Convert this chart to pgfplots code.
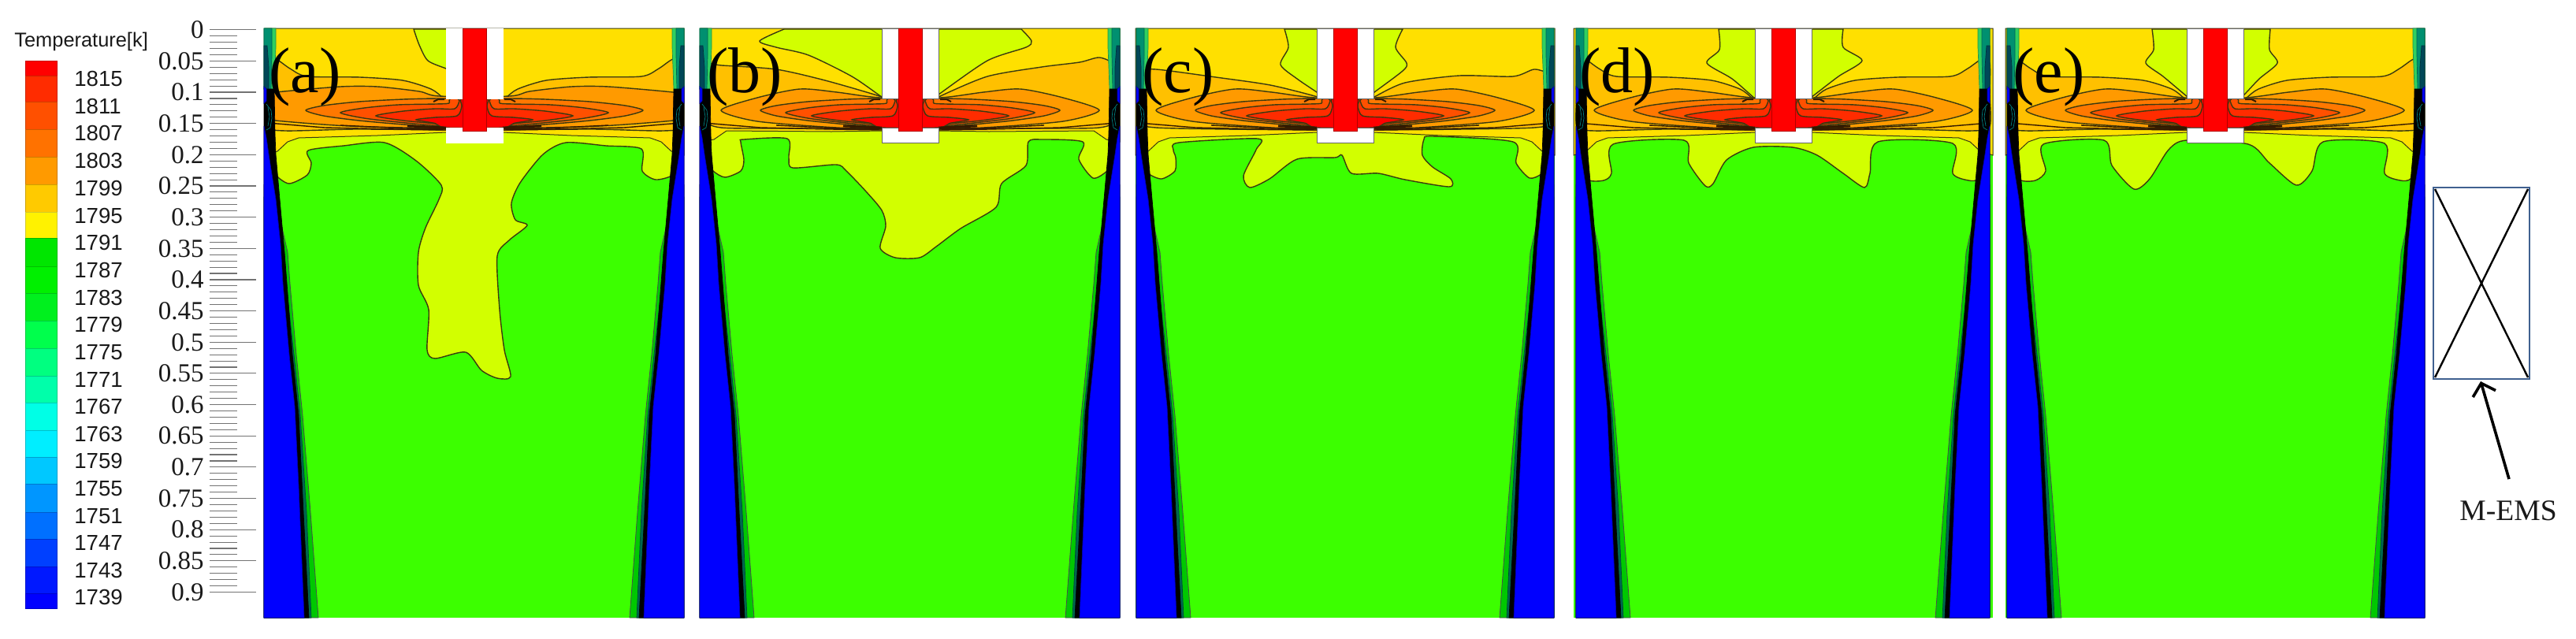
\documentclass[border=0pt]{standalone}
\usepackage{fontspec}
\setmainfont{Liberation Serif}
\setsansfont{Liberation Sans}
\usepackage{pgfplots}
\usepackage{pgfplotstable}
\usetikzlibrary{arrows.meta}
\pgfplotsset{compat=1.18}
\definecolor{cg}{HTML}{3CFF00}\definecolor{cy}{HTML}{D2FF00}\definecolor{cgold}{HTML}{FFE000}
\definecolor{camb}{HTML}{FFC000}\definecolor{cor}{HTML}{FF9A00}\definecolor{ca}{HTML}{FF7800}
\definecolor{cb}{HTML}{FF5000}\definecolor{cc}{HTML}{FF2C00}\definecolor{cd}{HTML}{FF0000}
\definecolor{cl}{HTML}{3A3A10}\definecolor{bx}{HTML}{3F6090}
\definecolor{wg}{HTML}{00C800}\definecolor{wt}{HTML}{006650}\definecolor{wa}{HTML}{30D060}\definecolor{wb}{HTML}{009070}\definecolor{wc}{HTML}{004858}
% whole panel (relative to centre)
\pgfplotstableread[row sep=\\]{x y\\-266 36\\266 36\\266 784\\-266 784\\}\tBase
% lower boundary of the gold layer
\pgfplotstableread[row sep=\\]{x y\\-266 36\\266 36\\266 197\\250 192\\237 180\\223 175\\123 172\\36 168\\-36 168\\-123 172\\-223 175\\-237 180\\-250 192\\-266 197\\}\tGold
\pgfplotstableread[row sep=\\]{x y\\-266 36\\266 36\\266 180\\249 177\\233 166\\100 167\\36 166\\-36 166\\-100 167\\-233 166\\-249 177\\-266 180\\}\tGoldB
% yellow-green plume/lobes
\pgfplotstableread[row sep=\\]{x y\\-240 150\\-256 170\\-256 205\\-252 222\\-235 233\\-212 222\\-207 207\\-211 191\\-166 185\\-114 181\\-74 204\\-42 235\\-45 253\\-62 289\\-71 320\\-71 362\\-58 393\\-60 444\\-50 455\\-11 447\\9 470\\29 480\\46 478\\38 444\\32 393\\29 325\\44 305\\67 286\\52 279\\47 258\\58 232\\87 196\\116 181\\167 185\\212 189\\213 217\\230 228\\252 222\\256 205\\256 170\\240 150\\120 150\\0 150\\-120 150\\}\tYgA
\pgfplotstableread[row sep=\\]{x y\\-240 150\\-256 170\\-256 205\\-250 217\\-235 225\\-215 217\\-211 203\\-215 180\\-211 177\\-156 176\\-154 200\\-149 213\\-94 209\\-81 217\\-56 243\\-36 267\\-31 287\\-38 315\\-19 327\\12 327\\33 313\\64 290\\109 263\\116 233\\147 210\\150 180\\167 177\\219 180\\214 202\\232 226\\250 217\\256 205\\256 170\\240 150\\120 150\\0 150\\-120 150\\}\tYgB
\pgfplotstableread[row sep=\\]{x y\\-240 150\\-256 170\\-256 205\\-250 220\\-233 227\\-216 217\\-215 200\\-218 190\\-211 181\\-111 176\\-113 190\\-129 223\\-121 238\\-96 227\\-61 202\\-13 200\\-4 197\\8 220\\42 220\\76 228\\132 237\\134 227\\111 212\\98 197\\100 177\\111 173\\213 180\\217 207\\234 226\\250 220\\256 205\\256 170\\240 150\\120 150\\0 150\\-120 150\\}\tYgC
\pgfplotstableread[row sep=\\]{x y\\-240 150\\-256 170\\-256 205\\-248 228\\-228 229\\-218 220\\-216 183\\-126 178\\-120 207\\-99 236\\-89 233\\-72 203\\-38 187\\12 187\\43 197\\76 220\\103 238\\110 220\\120 180\\215 182\\215 220\\235 229\\248 227\\256 205\\256 170\\240 150\\120 150\\0 150\\-120 150\\}\tYgD
\pgfplotstableread[row sep=\\]{x y\\-240 150\\-256 170\\-256 205\\-248 228\\-228 229\\-215 217\\-218 183\\-141 178\\-131 210\\-103 240\\-83 227\\-59 190\\-36 178\\42 183\\69 207\\103 235\\123 217\\137 180\\215 182\\215 220\\235 229\\248 227\\256 205\\256 170\\240 150\\120 150\\0 150\\-120 150\\}\tYgE
% patches beside the nozzle
\pgfplotstableread[row sep=\\]{x y\\-77 37\\-70 57\\-59 77\\-36 87\\-30 90\\-30 37\\}\tTa
\pgfplotstableread[row sep=\\]{x y\\-160 37\\-191 52\\-170 60\\-129 70\\-74 97\\-36 123\\-30 125\\-30 37\\}\tTbl
\pgfplotstableread[row sep=\\]{x y\\141 37\\154 52\\147 60\\98 77\\36 120\\30 125\\30 37\\}\tTbr
\pgfplotstableread[row sep=\\]{x y\\-77 37\\-72 60\\-82 82\\-61 100\\-36 117\\-30 122\\-30 37\\}\tTcl
\pgfplotstableread[row sep=\\]{x y\\73 37\\64 60\\78 80\\73 90\\37 117\\30 122\\30 37\\}\tTcr
\pgfplotstableread[row sep=\\]{x y\\-82 37\\-81 63\\-97 80\\-65 100\\-36 125\\-30 128\\-30 37\\}\tTdl
\pgfplotstableread[row sep=\\]{x y\\76 37\\76 60\\100 77\\70 97\\36 123\\30 126\\30 37\\}\tTdr
\pgfplotstableread[row sep=\\]{x y\\-80 37\\-78 63\\-88 80\\-66 97\\-35 123\\-30 126\\-30 37\\}\tTel
\pgfplotstableread[row sep=\\]{x y\\70 37\\69 63\\79 80\\56 100\\37 120\\30 124\\30 37\\}\tTer
% amber
\pgfplotstableread[row sep=\\]{x y\\-30 132\\-40 124\\-55 113\\-91 102\\-145 98\\-212 97\\-234 87\\-252 75\\-262 80\\-262 120\\-262 160\\-240 166\\-150 164\\-36 165\\36 165\\150 164\\240 166\\262 160\\262 120\\262 80\\252 75\\234 87\\212 97\\145 98\\91 102\\55 113\\40 124\\30 132\\}\tAmbA
\pgfplotstableread[row sep=\\]{x y\\-30 128\\-39 122\\-108 102\\-170 88\\-239 83\\-258 82\\-262 110\\-262 150\\-240 162\\-150 163\\-36 164\\36 164\\150 163\\240 162\\262 150\\262 110\\258 82\\240 73\\215 79\\167 85\\98 97\\36 123\\30 128\\}\tAmbB
\pgfplotstableread[row sep=\\]{x y\\-30 128\\-35 123\\-95 108\\-164 98\\-240 88\\-258 92\\-262 120\\-262 155\\-240 162\\-150 164\\-36 165\\36 165\\150 164\\240 162\\262 155\\262 120\\258 95\\240 88\\213 97\\145 96\\76 105\\37 123\\30 128\\}\tAmbC
% orange
\pgfplotstableread[row sep=\\]{x y\\-45 122\\-70 116\\-123 110\\-170 110\\-252 117\\-262 120\\-262 135\\-262 148\\-252 153\\-159 160\\-36 163\\36 163\\159 160\\252 153\\262 148\\262 135\\262 120\\252 117\\170 110\\123 110\\70 116\\45 122\\}\tOrA
\pgfplotstableread[row sep=\\]{x y\\-38 124\\-93 117\\-140 113\\-194 124\\-240 140\\-194 154\\-93 162\\-36 163\\36 163\\93 162\\194 154\\240 140\\194 124\\140 113\\93 117\\38 124\\}\tOr
% hot core
\pgfplotstableread[row sep=\\]{x y\\-190 140\\-170 134\\-130 129\\-80 126\\-40 125\\40 125\\80 126\\130 129\\170 134\\190 140\\170 147\\130 153\\80 158\\36 161\\-36 161\\-80 158\\-130 153\\-170 147\\}\tEa
\pgfplotstableread[row sep=\\]{x y\\-158 143\\-130 137\\-90 133\\-45 132\\-30 131\\-26 125\\26 125\\30 131\\45 132\\90 133\\130 137\\158 143\\130 150\\90 155\\36 160\\-36 160\\-90 155\\-130 150\\}\tEb
\pgfplotstableread[row sep=\\]{x y\\-125 147\\-90 141\\-50 138\\-25 138\\-19 128\\-19 125\\19 125\\19 128\\25 138\\50 138\\90 141\\125 147\\90 153\\50 157\\36 160\\-36 160\\-50 157\\-90 153\\}\tEc
\pgfplotstableread[row sep=\\]{x y\\-74 152\\-50 149\\-22 147\\-16 135\\-16 125\\16 125\\16 135\\22 147\\50 149\\74 152\\50 156.5\\36 162\\-36 162\\-50 156.5\\}\tEd
% dark compressed lines below the core
\pgfplotstableread[row sep=\\]{x y\\-36 162\\-60 161\\-85 160\\}\tDk
\pgfplotstableread[row sep=\\]{x y\\-36 165\\-100 164\\-190 162\\-262 156\\}\tDkb
\pgfplotstableread[row sep=\\]{x y\\-36 163.5\\-90 163\\-170 159\\}\tDkc
\pgfplotstableread[row sep=\\]{x y\\36 162\\60 161\\85 160\\}\tDkR
\pgfplotstableread[row sep=\\]{x y\\36 165\\100 164\\190 162\\262 156\\}\tDkbR
\pgfplotstableread[row sep=\\]{x y\\36 163.5\\90 163\\170 159\\}\tDkcR
\pgfplotstableread[row sep=\\]{x y\\-52 129\\-46 126\\-38 126\\}\tKl
\pgfplotstableread[row sep=\\]{x y\\52 129\\46 126\\38 126\\}\tKr
% nozzle
\pgfplotstableread[row sep=\\]{x y\\-36 36\\36 36\\36 125\\-36 125\\}\tNt
\pgfplotstableread[row sep=\\]{x y\\-36 162\\36 162\\36 181\\-36 181\\}\tNb
\pgfplotstableread[row sep=\\]{x y\\-15 36\\15 36\\15 166\\-15 166\\}\tSt
% walls (distance from panel edge)
\pgfplotstableread[row sep=\\]{d y\\0 235\\14 250\\30 320\\33 360\\41 450\\49 527\\59 650\\69 784\\0 784\\}\tWg
\pgfplotstableread[row sep=\\]{d y\\0 250\\10 250\\22 320\\28 360\\38 450\\46 527\\54 650\\60 784\\0 784\\}\tWt
\pgfplotstableread[row sep=\\]{d y\\0 113\\13 113\\14 170\\15 196\\20 253\\26 320\\36 450\\44 527\\50 650\\57 784\\0 784\\}\tWk
\pgfplotstableread[row sep=\\]{d y\\0 160\\3 175\\6 196\\15 253\\21 310\\24 360\\32 450\\39 516\\44 617\\51 784\\0 784\\}\tWb
\pgfplotstableread[row sep=\\]{d y\\0 110\\3 113\\3 128\\0 131\\}\tWs
\pgfplotstableread[row sep=\\]{d y\\0 36\\15 36\\15 60\\14 85\\13 113\\0 113\\}\tWca
\pgfplotstableread[row sep=\\]{d y\\0 36\\10 36\\10 70\\9 113\\0 113\\}\tWcb
\pgfplotstableread[row sep=\\]{d y\\0 58\\4 58\\6 85\\6 113\\0 113\\}\tWcc
\pgfplotstableread[row sep=\\]{d y\\3 132\\9 140\\10 150\\8 162\\3 165\\}\tWo
\pgfplotstableread[row sep=\\]{d y\\5 136\\7 148\\5 160\\}\tWp
\newcommand\rect[4]{\addplot[fill=#3,draw=#4,line width=.5pt] table[x expr=\thisrow{x}+#1,y=y]{#2} --cycle;}
\newcommand\blob[4]{\addplot[fill=#4,draw=cl,line width=.7pt,smooth cycle,tension=.45] table[x expr=\thisrow{x}*#2+#1,y=y]{#3};}
\newcommand\patch[2]{\addplot[fill=cy,draw=cl,line width=.7pt,smooth,tension=.45] table[x expr=\thisrow{x}+#1,y=y]{#2} --cycle;}
\newcommand\dark[3]{\addplot[draw=black!80!orange,line width=#3] table[x expr=\thisrow{x}+#1,y=y]{#2};}
\newcommand\wpoly[4]{\addplot[fill=#4,draw=#4!70!black,line width=.35pt] table[x expr=#2*\thisrow{d}+#1,y=y]{#3} --cycle;}
\newcommand\wline[4]{\addplot[draw=#4,line width=.35pt] table[x expr=#2*\thisrow{d}+#1,y=y]{#3};}
\newcommand\wall[2]{%
  \wpoly{#1}{#2}{\tWca}{wa}\wpoly{#1}{#2}{\tWcb}{wb}\wpoly{#1}{#2}{\tWcc}{wc}%
  \addplot[fill=wg,draw=black!70,line width=.4pt] table[x expr=#2*\thisrow{d}+#1,y=y]{\tWg} --cycle;%
  \wpoly{#1}{#2}{\tWt}{wt}\wpoly{#1}{#2}{\tWk}{black}\wpoly{#1}{#2}{\tWb}{blue}\wpoly{#1}{#2}{\tWs}{blue}%
  \wline{#1}{#2}{\tWo}{teal}\wline{#1}{#2}{\tWp}{teal}}
\newcommand\core[3]{%
  \blob{#1}{#2}{\tEa}{ca}\blob{#1}{#3}{\tEb}{cb}\blob{#1}{1}{\tEc}{cc}\blob{#1}{1}{\tEd}{cd}%
  \dark{#1}{\tDkb}{.7pt}\dark{#1}{\tDkbR}{.7pt}\dark{#1}{\tDkc}{.7pt}\dark{#1}{\tDkcR}{.7pt}%
  \dark{#1}{\tDk}{1.4pt}\dark{#1}{\tDkR}{1.4pt}\dark{#1}{\tKl}{1pt}\dark{#1}{\tKr}{1pt}}
\newcommand\nozzle[2]{\rect{#1}{\tNt}{white}{#2}\rect{#1}{\tNb}{white}{#2}\rect{#1}{\tSt}{red}{red!70!black}}
\newcommand\sw[3]{\addplot[fill=#3,draw=#3!80!black,line width=.3pt] coordinates {(32,#1)(72,#1)(72,#2)(32,#2)} --cycle;}
\newcommand\lab[2]{\node[anchor=west,inner sep=0pt,font=\sffamily\fontsize{13.8}{13.8}\selectfont,text=black!90] at (axis cs:94,#1) {#2};}
\definecolor{g1}{HTML}{00E600}\definecolor{g2}{HTML}{00F000}\definecolor{g3}{HTML}{00F01E}\definecolor{g4}{HTML}{00FF4C}\definecolor{g5}{HTML}{00FF80}\definecolor{g6}{HTML}{00FFAA}\definecolor{g7}{HTML}{00FFE6}\definecolor{b1}{HTML}{00EEFF}\definecolor{b2}{HTML}{00C8FF}\definecolor{b3}{HTML}{0096FF}\definecolor{b4}{HTML}{0070FF}\definecolor{b5}{HTML}{0040FF}\definecolor{b6}{HTML}{0018FF}
\begin{document}
\begin{tikzpicture}
\path[use as bounding box] (0,0) rectangle (1634.5pt,405pt);
\begin{axis}[at={(0,0)},anchor=south west,scale only axis,width=1634.5pt,height=405pt,
  xmin=0,xmax=3269,ymin=0,ymax=810,y dir=reverse,hide axis,clip=true]
% --- colour bar
\sw{77}{96}{red}\sw{96}{129}{cc}\sw{129}{164}{cb}\sw{164}{199}{ca!85!cb}\sw{199}{234}{cor}\sw{234}{269}{camb!70!cgold}\sw{269}{302}{yellow}
\sw{302}{338}{g1}\sw{338}{372}{g2}\sw{372}{407}{g3}\sw{407}{442}{g4}\sw{442}{477}{g5}\sw{477}{511}{g6}\sw{511}{546}{g7}\sw{546}{580}{b1}\sw{580}{614}{b2}\sw{614}{650}{b3}\sw{650}{684}{b4}\sw{684}{719}{b5}\sw{719}{753}{b6}\sw{753}{772}{blue}
\node[anchor=west,inner sep=0pt,font=\sffamily\fontsize{12.7}{12.7}\selectfont,text=black!90] at (axis cs:18,53) {Temperature[k]};
\lab{100}{1815}\lab{135}{1811}\lab{169}{1807}\lab{204}{1803}\lab{239}{1799}\lab{274}{1795}\lab{308}{1791}\lab{343}{1787}\lab{378}{1783}\lab{412}{1779}\lab{447}{1775}\lab{482}{1771}\lab{516}{1767}\lab{551}{1763}\lab{585}{1759}\lab{620}{1755}\lab{655}{1751}\lab{689}{1747}\lab{724}{1743}\lab{758}{1739}
% --- panel a
\rect{602}{\tBase}{cg}{none}\blob{602}{1}{\tYgA}{cy}\rect{602}{\tGold}{cgold}{cl}\patch{602}{\tTa}
\blob{602}{1}{\tAmbA}{camb}\blob{602}{1}{\tOrA}{cor}\core{602}{1.126}{1.076}\nozzle{602}{white}
\wall{335}{1}\wall{868}{-1}
% --- panel b
\rect{1155}{\tBase}{cg}{none}\blob{1155}{1}{\tYgB}{cy}\rect{1155}{\tGoldB}{cgold}{cl}\patch{1155}{\tTbl}\patch{1155}{\tTbr}
\blob{1155}{1}{\tAmbB}{camb}\blob{1155}{1}{\tOr}{cor}\core{1155}{1}{1}\nozzle{1155}{black!60}
\wall{888}{1}\wall{1421}{-1}
% --- panel c
\rect{1707}{\tBase}{cg}{none}\blob{1707}{1}{\tYgC}{cy}\rect{1707}{\tGold}{cgold}{cl}\patch{1707}{\tTcl}\patch{1707}{\tTcr}
\blob{1707}{1}{\tAmbC}{camb}\blob{1707}{1}{\tOr}{cor}\core{1707}{1}{1}\nozzle{1707}{black!60}
\wall{1442}{1}\wall{1972}{-1}
% --- panel d
\rect{2263}{\tBase}{cg}{none}\blob{2263}{1}{\tYgD}{cy}\rect{2263}{\tGold}{cgold}{cl}\patch{2263}{\tTdl}\patch{2263}{\tTdr}
\blob{2263}{1}{\tAmbA}{camb}\blob{2263}{1}{\tOr}{cor}\core{2263}{1}{1}\nozzle{2263}{black!60}
\wall{2000}{1}\wall{2525}{-1}
% --- panel e
\rect{2811}{\tBase}{cg}{none}\blob{2811}{1}{\tYgE}{cy}\rect{2811}{\tGold}{cgold}{cl}\patch{2811}{\tTel}\patch{2811}{\tTer}
\blob{2811}{1}{\tAmbA}{camb}\blob{2811}{1}{\tOr}{cor}\core{2811}{1}{1}\nozzle{2811}{black!60}
\wall{2547}{1}\wall{3077}{-1}
% --- panel letters
\node[font=\fontsize{41}{41}\selectfont,inner sep=0pt] at (axis cs:387,98) {(a)};
\node[font=\fontsize{41}{41}\selectfont,inner sep=0pt] at (axis cs:945,98) {(b)};
\node[font=\fontsize{41}{41}\selectfont,inner sep=0pt] at (axis cs:1495,98) {(c)};
\node[font=\fontsize{41}{41}\selectfont,inner sep=0pt] at (axis cs:2052,98) {(d)};
\node[font=\fontsize{41}{41}\selectfont,inner sep=0pt] at (axis cs:2600,98) {(e)};
% --- M-EMS coil
\addplot[draw=black,line width=1.2pt] coordinates {(3090,240)(3208,479)};
\addplot[draw=black,line width=1.2pt] coordinates {(3208,240)(3090,479)};
\addplot[draw=bx,line width=1.2pt] coordinates {(3088,238)(3210,238)(3210,481)(3088,481)} --cycle;
\addplot[draw=black,line width=1.8pt,-{Straight Barb[length=7pt,width=15pt]}] coordinates {(3184,608)(3148,484)};
\node[inner sep=0pt,font=\fontsize{18.8}{18.8}\selectfont,text=black!90] at (axis cs:3183,648) {M-EMS};
\end{axis}
% --- depth ladder
\begin{axis}[at={(133pt,17.35pt)},anchor=south west,scale only axis,width=29.5pt,height=368.8pt,
  xmin=0,xmax=1,ymin=0,ymax=0.93,y dir=reverse,axis x line=none,axis y line*=left,
  y axis line style={draw=none},tick align=inside,major tick length=29.5pt,minor tick length=17.5pt,
  ytick={0,0.05,0.1,0.15,0.2,0.25,0.3,0.35,0.4,0.45,0.5,0.55,0.6,0.65,0.7,0.75,0.8,0.85,0.9},
  yticklabels={0,0.05,0.1,0.15,0.2,0.25,0.3,0.35,0.4,0.45,0.5,0.55,0.6,0.65,0.7,0.75,0.8,0.85,0.9},
  minor y tick num=4,tick style={draw=black!55,line width=.55pt},
  yticklabel style={font=\fontsize{16.5}{16.5}\selectfont,inner sep=0pt,xshift=-3.5pt,text=black!90}]
\end{axis}
\end{tikzpicture}
\end{document}
